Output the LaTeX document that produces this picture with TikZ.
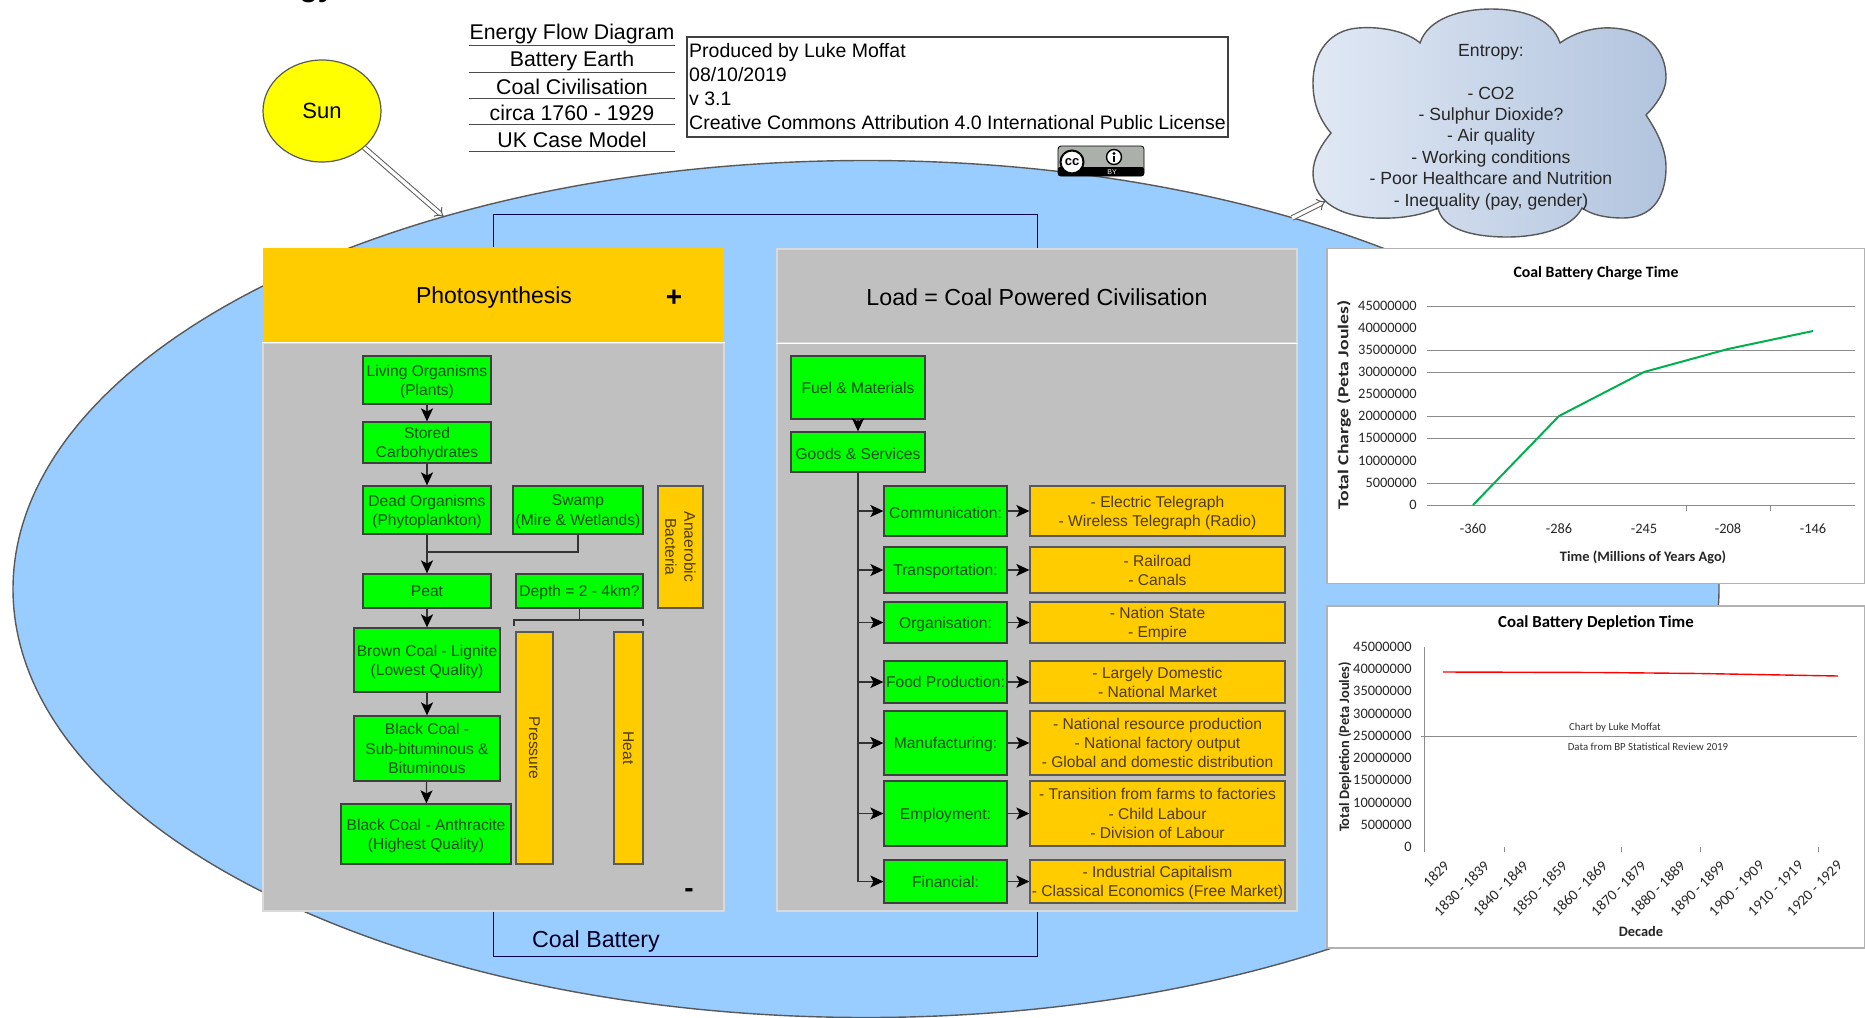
\documentclass[tikz,border=0pt]{standalone}
\usepackage{fontspec}
\setmainfont{Liberation Sans}
\newfontfamily\chartfont{Carlito}
\usetikzlibrary{arrows.meta,shapes.geometric,calc}

\tikzset{
    boxsize/.style 2 args={minimum width=#1*0.5pt, minimum height=#2*0.5pt},
    greenbox/.style={draw=black!75, line width=0.6pt, fill=boxgreen, text=boxgreentext, inner sep=0pt, align=center, text depth=0pt, font=\fontsize{7.8}{9.6}\selectfont},
    orangebox/.style={draw=black!65, line width=0.6pt, fill=boxorange, text=boxorangetext, inner sep=0pt, align=center, text depth=0pt, font=\fontsize{7.8}{9.6}\selectfont},
    panel/.style={draw=black!15, line width=0.6pt, fill=panelgrey, inner sep=0pt},
    titlerow/.style={inner sep=0pt, boxsize={205}{22}, font=\fontsize{10.65}{12}\selectfont},
    rowline/.style={draw=black!70, line width=0.6pt},
    wire/.style={draw=black!80, line width=0.6pt},
    batterywire/.style={draw=black!70!blue, line width=0.5pt},
    flow/.style={wire, -{Stealth[length=6.5pt,width=6pt,inset=1.5pt,black]}},
    energyarrow/.style={draw=black!65, double=white, double distance=1.7pt, line width=0.5pt, -{Implies[length=6.5pt,width=9pt]}},
    chartbox/.style={draw=black!30, line width=0.7pt, fill=white, inner sep=0pt},
    gridline/.style={draw=black!45, line width=0.5pt},
    ylab/.style={anchor=east, inner sep=0pt, font=\chartfont\fontsize{7.2}{8}\selectfont, text=black!85},
    xlab/.style={inner sep=0pt, font=\chartfont\fontsize{7.2}{8}\selectfont, text=black!85},
    declab/.style={anchor=east, rotate=45, inner sep=0pt, font=\chartfont\fontsize{7.4}{8}\selectfont, text=black!85},
    charthead/.style={inner sep=0pt, font=\chartfont\bfseries\fontsize{7.9}{9}\selectfont},
    axishead/.style={inner sep=0pt, font=\chartfont\bfseries\fontsize{7.2}{9}\selectfont, text=black!85},
    chartnote/.style={inner sep=0pt, font=\chartfont\fontsize{5.4}{6}\selectfont, text=black!80},
}

\begin{document}
\begin{tikzpicture}[x=0.5pt, y=-0.5pt]
    % Define custom colors
    \definecolor{boxgreen}{RGB}{0,255,0}
    \definecolor{boxgreentext}{RGB}{10,80,10}
    \definecolor{boxorange}{RGB}{255,204,0}
    \definecolor{boxorangetext}{RGB}{80,60,0}
    \definecolor{panelgrey}{RGB}{192,192,192}
    \definecolor{batteryblue}{RGB}{153,204,255}
    \definecolor{sunyellow}{RGB}{255,255,0}
    \definecolor{cloudleft}{RGB}{224,232,244}
    \definecolor{cloudright}{RGB}{178,196,222}
    \definecolor{chartgreen}{RGB}{0,176,80}
    \definecolor{badgegrey}{RGB}{172,176,170}

    \useasboundingbox (0,0) rectangle (1865,1018);

    % Clipped heading at the top edge
    \node[anchor=base east, inner sep=0pt, font=\bfseries\fontsize{15}{18}\selectfont] (cuthead) at (335,-4) {Energy};

    % Coal battery (ellipse)
    \node[ellipse, draw=black!65, line width=0.7pt, fill=batteryblue, inner sep=0pt, boxsize={1706}{857}] (battery) at (866,589) {};

    % Sun
    \node[ellipse, draw=black!65, line width=0.6pt, fill=sunyellow, inner sep=0pt, boxsize={118}{102}, font=\fontsize{11}{13}\selectfont] (sun) at (322,111) {Sun};
    \coordinate (sunhit) at (444,217);
    \draw[energyarrow] (sun) -- (sunhit);

    % Title rows
    \node[titlerow] (titleone) at (572,34) {Energy Flow Diagram};
    \node[titlerow] (titletwo) at (572,61) {Battery Earth};
    \node[titlerow] (titlethree) at (572,87) {Coal Civilisation};
    \node[titlerow] (titlefour) at (572,113) {circa 1760 - 1929};
    \node[titlerow] (titlefive) at (572,140) {UK Case Model};
    \draw[rowline] (titleone.south west) -- (titleone.south east);
    \draw[rowline] (titletwo.south west) -- (titletwo.south east);
    \draw[rowline] (titlethree.south west) -- (titlethree.south east);
    \draw[rowline] (titlefour.south west) -- (titlefour.south east);
    \draw[rowline] (titlefive.south west) -- (titlefive.south east);

    % Credits box
    \node[draw=black!75, line width=0.6pt, fill=white, boxsize={541}{100}, inner sep=0pt, align=left, font=\fontsize{9.75}{12}\selectfont] (credits) at (957.5,87) {Produced by Luke Moffat\\08/10/2019\\v 3.1\\Creative Commons Attribution 4.0 International Public License};

    % Licence badge
    \node[draw=black, fill=badgegrey, rounded corners=1.5pt, inner sep=0pt, boxsize={86}{30}] (badge) at (1101,161) {};
    \fill[black, rounded corners=1pt] (1058,167) rectangle (1144,176);
    \node[circle, draw=black, line width=1pt, fill=white, inner sep=0pt, minimum size=11.5pt, font=\bfseries\fontsize{6.5}{7}\selectfont] (badgecc) at (1072,162) {cc};
    \node[circle, draw=black, line width=0.7pt, fill=white, inner sep=0pt, minimum size=7.5pt] (badgeby) at (1114,157) {};
    \fill[black] (1114,153.5) circle (1.6);
    \draw[black, line width=0.9pt] (1114,156) -- (1114,162);
    \node[text=white, inner sep=0pt, font=\fontsize{3.5}{4}\selectfont] (badgetext) at (1112,172) {BY};

    % Entropy cloud
    \path[draw=black!65, line width=0.7pt, left color=cloudleft, right color=cloudright]
        (1420,43) .. controls (1428,18) and (1462,9) .. (1491,9)
        .. controls (1522,9) and (1552,18) .. (1560,43)
        .. controls (1575,32) and (1595,27) .. (1612,28)
        .. controls (1648,30) and (1666,50) .. (1666,78)
        .. controls (1666,92) and (1655,106) .. (1646,115)
        .. controls (1656,130) and (1666,148) .. (1666,167)
        .. controls (1666,200) and (1650,218) .. (1623,218)
        .. controls (1606,218) and (1592,215) .. (1582,208)
        .. controls (1572,228) and (1540,237) .. (1507,237)
        .. controls (1470,237) and (1442,228) .. (1438,208)
        .. controls (1420,216) and (1398,219) .. (1375,218)
        .. controls (1335,216) and (1313,198) .. (1313,173)
        .. controls (1313,158) and (1322,144) .. (1331,133)
        .. controls (1320,120) and (1313,104) .. (1313,83)
        .. controls (1313,52) and (1330,30) .. (1358,28)
        .. controls (1382,26) and (1408,32) .. (1420,43) -- cycle;
    \node[align=center, inner sep=0pt, text=black!85, font=\fontsize{8.8}{10.7}\selectfont] (entropy) at (1491,127) {Entropy:\\[10.7pt]- CO2\\- Sulphur Dioxide?\\- Air quality\\- Working conditions\\- Poor Healthcare and Nutrition\\- Inequality (pay, gender)};
    \coordinate (entropyfoot) at (1292,218);
    \coordinate (entropyhit) at (1326,201);
    \draw[energyarrow] (entropyfoot) -- (entropyhit);

    % Photosynthesis panel
    \node[panel, draw=none, fill=boxorange, boxsize={461}{94}] (photohead) at (493.5,295) {};
    \node[panel, boxsize={461}{568}] (photobody) at (493.5,627) {};
    \draw[white, line width=0.7pt] (photohead.south west) -- (photohead.south east);
    \node[inner sep=0pt, font=\fontsize{11.5}{13}\selectfont] (phototitle) at (494,298) {Photosynthesis};
    \node[inner sep=0pt, font=\bfseries\fontsize{14}{16}\selectfont] (plus) at (674,298) {+};
    \node[inner sep=0pt, font=\bfseries\fontsize{14}{16}\selectfont] (minus) at (689,893) {-};

    % Load panel
    \node[panel, boxsize={520}{94}] (loadhead) at (1037,296) {};
    \node[panel, boxsize={520}{568}] (loadbody) at (1037,627) {};
    \draw[white, line width=0.7pt] (loadhead.south west) -- (loadhead.south east);
    \node[inner sep=0pt, font=\fontsize{11.6}{13}\selectfont] (loadtitle) at (1037,297) {Load = Coal Powered Civilisation};

    % Battery wire (top and bottom)
    \draw[batterywire] (photohead.north) -- ++(0,-33) -| (loadhead.north);
    \draw[batterywire] (photobody.south) -- ++(0,45) -| (loadbody.south);
    \node[inner sep=0pt, text=black!85!blue, font=\fontsize{11.6}{13}\selectfont] (coallabel) at (596,941) {Coal Battery};

    % Coal formation boxes
    \node[greenbox, boxsize={128}{48}] (living) at (427,380) {Living Organisms\\(Plants)};
    \node[greenbox, boxsize={128}{41}] (stored) at (427,442.5) {Stored\\Carbohydrates};
    \node[greenbox, boxsize={128}{48}] (dead) at (427,510) {Dead Organisms\\(Phytoplankton)};
    \node[greenbox, boxsize={130}{48}] (swamp) at (578,510) {Swamp\\(Mire \& Wetlands)};
    \node[orangebox, rotate=-90, boxsize={122}{45}] (bacteria) at (680.5,547) {Anaerobic\\Bacteria};
    \node[greenbox, boxsize={128}{34}] (peat) at (427,591) {Peat};
    \node[greenbox, boxsize={127}{34}] (depth) at (579.5,591) {Depth = 2 - 4km?};
    \node[greenbox, boxsize={146}{64}] (brown) at (427,660) {Brown Coal - Lignite\\(Lowest Quality)};
    \node[greenbox, boxsize={146}{65}] (black) at (427,748.5) {Black Coal -\\Sub-bituminous \&\\Bituminous};
    \node[greenbox, boxsize={170}{60}] (anthracite) at (426,834) {Black Coal - Anthracite\\(Highest Quality)};
    \node[orangebox, rotate=-90, boxsize={232}{37}] (pressure) at (534.5,748) {Pressure};
    \node[orangebox, rotate=-90, boxsize={232}{29}] (heat) at (628.5,748) {Heat};

    % Coal formation connectors
    \draw[flow] (living) -- (stored);
    \draw[flow] (stored) -- (dead);
    \draw[flow] (dead) -- (peat);
    \draw[flow] (peat) -- (brown);
    \draw[flow] (brown) -- (black);
    \draw[flow] (black) -- (anthracite);
    \coordinate (swampjoin) at (427,552);
    \draw[wire] (swamp.south) |- (swampjoin);
    \coordinate (depthjoin) at (579.5,620);
    \coordinate (bracketleft) at (514,626);
    \coordinate (bracketright) at (643,626);
    \draw[wire] (depth.south) -- (depthjoin);
    \draw[wire] (bracketleft) |- (depthjoin) -| (bracketright);

    % Civilisation boxes
    \node[greenbox, boxsize={134}{63}] (fuel) at (858,387.5) {Fuel \& Materials};
    \node[greenbox, boxsize={134}{40}, text height=7pt] (goods) at (858,452) {Goods \& Services};
    \draw[flow] (fuel) -- (goods);

    \node[greenbox, boxsize={123}{50}, text height=7pt] (comm) at (945.5,511) {Communication:};
    \node[orangebox, boxsize={255}{50}] (commtext) at (1157.5,511) {- Electric Telegraph\\- Wireless Telegraph (Radio)};
    \node[greenbox, boxsize={123}{46}] (trans) at (945.5,570) {Transportation:};
    \node[orangebox, boxsize={255}{46}] (transtext) at (1157.5,570) {- Railroad\\- Canals};
    \node[greenbox, boxsize={123}{41}] (org) at (945.5,622.5) {Organisation:};
    \node[orangebox, boxsize={255}{41}] (orgtext) at (1157.5,622.5) {- Nation State\\- Empire};
    \node[greenbox, boxsize={123}{42}] (food) at (945.5,682) {Food Production:};
    \node[orangebox, boxsize={255}{42}] (foodtext) at (1157.5,682) {- Largely Domestic\\- National Market};
    \node[greenbox, boxsize={123}{64}] (manu) at (945.5,743) {Manufacturing:};
    \node[orangebox, boxsize={255}{64}] (manutext) at (1157.5,743) {- National resource production\\- National factory output\\- Global and domestic distribution};
    \node[greenbox, boxsize={123}{65}] (emp) at (945.5,813.5) {Employment:};
    \node[orangebox, boxsize={255}{65}] (emptext) at (1157.5,813.5) {- Transition from farms to factories\\- Child Labour\\- Division of Labour};
    \node[greenbox, boxsize={123}{43}] (fin) at (945.5,881.5) {Financial:};
    \node[orangebox, boxsize={255}{43}] (fintext) at (1157.5,881.5) {- Industrial Capitalism\\- Classical Economics (Free Market)};

    % Civilisation connectors
    \draw[flow] (goods.south) |- (comm.west);
    \draw[flow] (goods.south) |- (trans.west);
    \draw[flow] (goods.south) |- (org.west);
    \draw[flow] (goods.south) |- (food.west);
    \draw[flow] (goods.south) |- (manu.west);
    \draw[flow] (goods.south) |- (emp.west);
    \draw[flow] (goods.south) |- (fin.west);
    \draw[flow] (comm) -- (commtext);
    \draw[flow] (trans) -- (transtext);
    \draw[flow] (org) -- (orgtext);
    \draw[flow] (food) -- (foodtext);
    \draw[flow] (manu) -- (manutext);
    \draw[flow] (emp) -- (emptext);
    \draw[flow] (fin) -- (fintext);

    % Charge chart
    \node[chartbox, boxsize={538}{335}] (chargebox) at (1596,416) {};
    \node[charthead] (chargetitle) at (1596,273) {Coal Battery Charge Time};
    \draw[gridline] (1427,306) -- (1855,306);
    \draw[gridline] (1427,350) -- (1855,350);
    \draw[gridline] (1427,372) -- (1855,372);
    \draw[gridline] (1427,416) -- (1855,416);
    \draw[gridline] (1427,438) -- (1855,438);
    \draw[gridline] (1427,483) -- (1855,483);
    \draw[gridline] (1427,505) -- (1855,505);
    \draw[gridline] (1686,505) -- (1686,511);
    \draw[gridline] (1770,505) -- (1770,511);
    \node[ylab] (cya) at (1417,306) {45000000};
    \node[ylab] (cyb) at (1417,328) {40000000};
    \node[ylab] (cyc) at (1417,350) {35000000};
    \node[ylab] (cyd) at (1417,372) {30000000};
    \node[ylab] (cye) at (1417,394) {25000000};
    \node[ylab] (cyf) at (1417,416) {20000000};
    \node[ylab] (cyg) at (1417,438) {15000000};
    \node[ylab] (cyh) at (1417,461) {10000000};
    \node[ylab] (cyi) at (1417,483) {5000000};
    \node[ylab] (cyj) at (1417,505) {0};
    \node[xlab] (cxa) at (1473,529) {-360};
    \node[xlab] (cxb) at (1559,529) {-286};
    \node[xlab] (cxc) at (1644,529) {-245};
    \node[xlab] (cxd) at (1728,529) {-208};
    \node[xlab] (cxe) at (1813,529) {-146};
    \draw[chartgreen, line width=1pt] (1473,505) -- (1559,416) -- (1644,372) -- (1728,349) -- (1813,331);
    \node[axishead] (chargex) at (1643,557) {Time (Millions of Years Ago)};
    \node[axishead, rotate=90] (chargey) at (1344,405) {\scalebox{1.37}[1.05]{Total Charge (Peta Joules)}};

    % Depletion chart
    \node[chartbox, boxsize={538}{342}] (depbox) at (1596,777) {};
    \node[charthead, font=\chartfont\bfseries\fontsize{8.4}{9}\selectfont] (deptitle) at (1596,623) {Coal Battery Depletion Time};
    \draw[gridline] (1424,647) -- (1424,852);
    \draw[gridline] (1421,736) -- (1857,736);
    \draw[gridline] (1504,847) -- (1504,852);
    \draw[gridline] (1621,847) -- (1621,852);
    \draw[gridline] (1700,847) -- (1700,852);
    \draw[gridline] (1818,847) -- (1818,852);
    \node[ylab] (dya) at (1412,647) {45000000};
    \node[ylab] (dyb) at (1412,669) {40000000};
    \node[ylab] (dyc) at (1412,691) {35000000};
    \node[ylab] (dyd) at (1412,714) {30000000};
    \node[ylab] (dye) at (1412,736) {25000000};
    \node[ylab] (dyf) at (1412,758) {20000000};
    \node[ylab] (dyg) at (1412,780) {15000000};
    \node[ylab] (dyh) at (1412,803) {10000000};
    \node[ylab] (dyi) at (1412,825) {5000000};
    \node[ylab] (dyj) at (1412,847) {0};
    \draw[red, line width=0.7pt] (1443,672) -- (1600,672.5) -- (1700,673.5) -- (1838,676);
    \node[chartnote] (depnoteone) at (1615,728) {Chart by Luke Moffat};
    \node[chartnote] (depnotetwo) at (1648,747) {Data from BP Statistical Review 2019};
    \node[declab] (dxa) at (1447,863) {1829};
    \node[declab] (dxb) at (1487,863) {1830 - 1839};
    \node[declab] (dxc) at (1526,863) {1840 - 1849};
    \node[declab] (dxd) at (1565,863) {1850 - 1859};
    \node[declab] (dxe) at (1605,863) {1860 - 1869};
    \node[declab] (dxf) at (1644,863) {1870 - 1879};
    \node[declab] (dxg) at (1683,863) {1880 - 1889};
    \node[declab] (dxh) at (1723,863) {1890 - 1899};
    \node[declab] (dxi) at (1762,863) {1900 - 1909};
    \node[declab] (dxj) at (1801,863) {1910 - 1919};
    \node[declab] (dxk) at (1840,863) {1920 - 1929};
    \node[axishead] (depx) at (1641,931) {Decade};
    \node[axishead, rotate=90] (depy) at (1345,747) {Total Depletion (Peta Joules)};
\end{tikzpicture}
\end{document}
